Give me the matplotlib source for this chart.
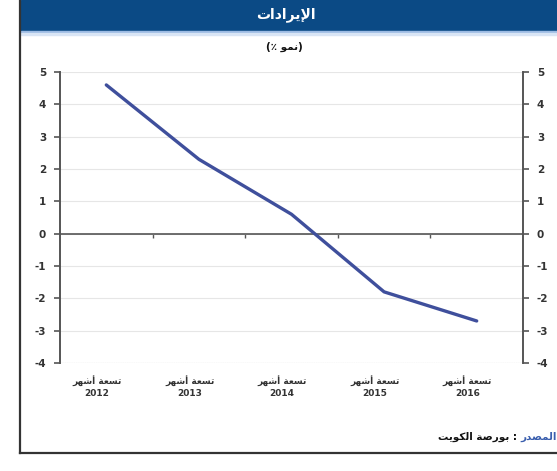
import matplotlib
matplotlib.use("Agg")
import matplotlib.pyplot as plt
import matplotlib.patches as mpatches
import matplotlib.transforms as mtransforms
import numpy as np

plt.rcParams["axes.unicode_minus"] = False

# ── Data ─────────────────────────────────────────────────────────────────────
# Arabic text is stored pre-shaped (presentation forms, visual order)
YEARS   = ["2012", "2013", "2014", "2015", "2016"]
PERIOD  = "\uFEAE\uFEEC\uFEB7\uFE83 \uFE94\uFECC\uFEB4\uFE97"      # تسعة أشهر
VALUES  = [4.6, 2.3, 0.6, -1.8, -2.7]
YTICKS  = [5, 4, 3, 2, 1, 0, -1, -2, -3, -4]

TITLE    = "\uFE95\uFE8D\uFEA9\uFE8D\uFEAE\uFEF3\uFEF9\uFE8D"       # الإيرادات
SUBTITLE = "(\u066A \uFEEE\uFEE4\uFEE7)"                             # (نمو ٪)
SRC_LBL  = "\uFEAD\uFEAA\uFEBC\uFEE4\uFEDF\uFE8D"                   # المصدر
SRC_TXT  = ("\uFE96\uFEF3\uFEEE\uFEDC\uFEDF\uFE8D "
            "\uFE94\uFEBB\uFEAD\uFEEE\uFE91 : ")                     # : بورصة الكويت

# ── Colours ──────────────────────────────────────────────────────────────────
C_HEAD = "#0b4a85"
C_LINE = "#3f4f9c"
C_AXIS = "#555555"
C_GRID = "#e6e6e6"
C_TEXT = "#333333"

W, H = 557, 471
fig = plt.figure(figsize=(W / 100, H / 100), dpi=100, facecolor="white")

# ── Frame + header ───────────────────────────────────────────────────────────
def fx(px): return px / W
def fy(py): return 1 - py / H

fig.patches.append(mpatches.Rectangle((fx(21), fy(31)), 1 - fx(21), fy(0) - fy(31),
                                      transform=fig.transFigure, color=C_HEAD, zorder=0))
fig.patches.append(mpatches.Rectangle((fx(21), fy(33)), 1 - fx(21), fy(31) - fy(33),
                                      transform=fig.transFigure, color="#9dbbe3", zorder=0))
fig.patches.append(mpatches.Rectangle((fx(21), fy(35)), 1 - fx(21), fy(33) - fy(35),
                                      transform=fig.transFigure, color="#d9e5f5", zorder=0))
fig.add_artist(plt.Line2D([fx(20), fx(20)], [fy(0), fy(453)], color="#333", lw=1.6))
fig.add_artist(plt.Line2D([fx(20), 1], [fy(453), fy(453)], color="#333", lw=1.6))

fig.text(fx(286), fy(15), TITLE, ha="center", va="center", color="white",
         fontsize=10, fontweight="bold")
fig.text(fx(284), fy(47), SUBTITLE, ha="center", va="center", color="#111",
         fontsize=7.5, fontweight="bold")

# ── Axes ─────────────────────────────────────────────────────────────────────
ax = fig.add_axes([fx(60), fy(363), fx(523) - fx(60), fy(72) - fy(363)])
xs = np.arange(len(VALUES))
ax.plot(xs, VALUES, color=C_LINE, lw=2.4, solid_capstyle="round", zorder=4)

ax.set_xlim(-0.5, len(VALUES) - 0.5)
ax.set_ylim(min(YTICKS), max(YTICKS))
ax.set_yticks(YTICKS)
ax.yaxis.grid(True, color=C_GRID, lw=0.8)
ax.set_axisbelow(True)
ax.axhline(min(YTICKS), color="#bbbbbb", lw=0.8, ls=(0, (1, 1)), zorder=1)

for s in ["top", "right"]:
    ax.spines[s].set_visible(False)
ax.spines["left"].set_color(C_AXIS)
ax.spines["left"].set_linewidth(1.4)
ax.spines["bottom"].set_position(("data", 0))
ax.spines["bottom"].set_color(C_AXIS)
ax.spines["bottom"].set_linewidth(1.2)

ax.set_xticks(xs[:-1] + 0.5)
ax.set_xticklabels([])
ax.tick_params(axis="x", direction="out", length=3, width=1, color=C_AXIS)
ax.tick_params(axis="y", direction="out", length=4, width=1.2, color=C_AXIS,
               labelsize=7.5, labelcolor=C_TEXT, pad=6)
for lab in ax.get_yticklabels():
    lab.set_fontweight("bold")

ax2 = ax.twinx()
ax2.set_ylim(ax.get_ylim())
ax2.set_yticks(YTICKS)
for s in ["top", "left", "bottom"]:
    ax2.spines[s].set_visible(False)
ax2.spines["right"].set_color(C_AXIS)
ax2.spines["right"].set_linewidth(1.4)
ax2.tick_params(axis="y", direction="out", length=4, width=1.2, color=C_AXIS,
                labelsize=7.5, labelcolor=C_TEXT, pad=6)
for lab in ax2.get_yticklabels():
    lab.set_fontweight("bold")

# category labels below the plot
trans = mtransforms.blended_transform_factory(ax.transData, ax.transAxes)
for i, yr in enumerate(YEARS):
    ax.text(i - 0.1, -0.04, PERIOD + "\n" + yr, transform=trans, ha="center", va="top",
            fontsize=6.5, fontweight="bold", color=C_TEXT, linespacing=1.5)

# ── Source ───────────────────────────────────────────────────────────────────
t1 = fig.text(1.0, fy(437), SRC_LBL, ha="right", va="center", color="#3b5fae",
              fontsize=7.5, fontweight="bold")
fig.canvas.draw()
bb = t1.get_window_extent()
fig.text(bb.x0 / W, fy(437), SRC_TXT, ha="right", va="center", color="#111",
         fontsize=7.5, fontweight="bold")

plt.savefig("out.png", dpi=100, facecolor="white")
